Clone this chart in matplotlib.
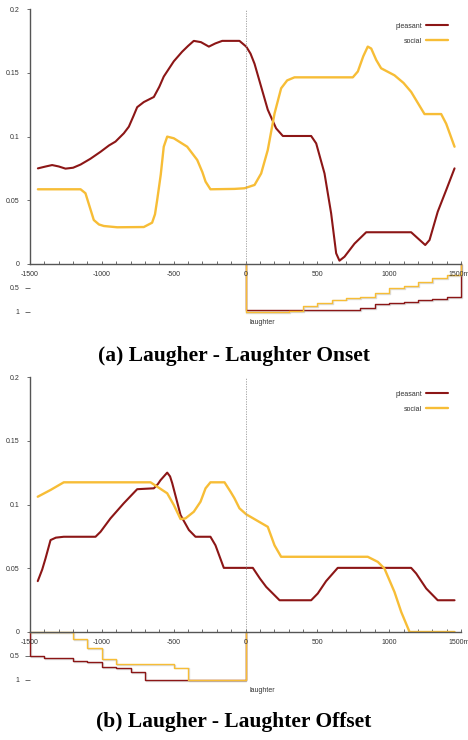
import matplotlib
matplotlib.use('Agg')
import matplotlib.pyplot as plt
import matplotlib.patheffects as pe


#######################################################################

plt.rcParams['font.family'] = ['Liberation Sans', 'DejaVu Sans']

# Colours of the two ratings.
red = '#8c1616'
gold = '#f7bd36'

# (a) onset: smooth rating curves, time in ms.
a_pleasant_t = [-1445, -1390, -1346, -1300, -1253, -1200, -1148, -1080, -1009, -950,
                -905, -847, -812, -780, -754, -708, -638, -600, -569, -499, -441,
                -400, -360, -310, -255, -210, -162, -81, -42, 5, 35, 63, 109, 155,
                213, 260, 457, 492, 550, 596, 631, 654, 689, 759, 840, 1153, 1200,
                1251, 1281, 1338, 1397, 1455]
a_pleasant_v = [0.075, 0.0765, 0.0776, 0.0765, 0.0748, 0.0755, 0.078, 0.0825, 0.088,
                0.093, 0.096, 0.1025, 0.1077, 0.116, 0.123, 0.127, 0.131, 0.139,
                0.147, 0.159, 0.1665, 0.171, 0.175, 0.174, 0.1705, 0.173, 0.175,
                0.175, 0.175, 0.1705, 0.165, 0.157, 0.139, 0.121, 0.1064, 0.1004,
                0.1004, 0.0946, 0.071, 0.0398, 0.0084, 0.0026, 0.0057, 0.016,
                0.0249, 0.0249, 0.0201, 0.0149, 0.0188, 0.041, 0.058, 0.075]

a_social_t = [-1445, -1148, -1114, -1085, -1056, -1020, -986, -893, -708, -650,
              -630, -615, -590, -569, -545, -499, -406, -336, -300, -278, -244,
              -77, -7, 63, 109, 155, 202, 248, 290, 341, 747, 782, 820, 851, 875,
              910, 944, 1037, 1100, 1153, 1246, 1362, 1397, 1455]
a_social_v = [0.0586, 0.0586, 0.0555, 0.045, 0.0345, 0.031, 0.0298, 0.0288, 0.029,
              0.0324, 0.039, 0.050, 0.070, 0.092, 0.0999, 0.0986, 0.092, 0.0816,
              0.072, 0.0646, 0.0586, 0.0589, 0.0594, 0.062, 0.071, 0.0894, 0.118,
              0.1378, 0.144, 0.1464, 0.1464, 0.151, 0.163, 0.1705, 0.169, 0.160,
              0.1535, 0.148, 0.142, 0.135, 0.1176, 0.1176, 0.110, 0.092]

# (a) onset: proportion of raters, step series.
a_step_pleasant_t = [0, 0, 700, 800, 900, 1000, 1100, 1200, 1300, 1400, 1500]
a_step_pleasant_v = [0, 0.965, 0.95, 0.92, 0.84, 0.82, 0.79, 0.76, 0.72, 0.69, 0]
a_step_social_t = [0, 0, 300, 400, 500, 600, 700, 800, 900, 1000, 1100, 1200,
                   1300, 1400, 1500]
a_step_social_v = [0, 1.0, 0.97, 0.88, 0.81, 0.74, 0.715, 0.68, 0.61, 0.5, 0.46,
                   0.37, 0.285, 0.22, 0]

# (b) offset: smooth rating curves.
b_pleasant_t = [-1446, -1415, -1392, -1357, -1320, -1265, -1044, -1009, -940, -847,
                -754, -638, -610, -592, -545, -525, -510, -452, -394, -348, -244,
                -209, -151, -81, 51, 100, 144, 237, 457, 503, 561, 642, 1153, 1188,
                1258, 1338, 1455]
b_pleasant_v = [0.0399, 0.049, 0.0577, 0.0721, 0.0740, 0.0747, 0.0747, 0.0786,
                0.0891, 0.101, 0.112, 0.1127, 0.116, 0.119, 0.125, 0.122, 0.1167,
                0.0917, 0.080, 0.0747, 0.0747, 0.068, 0.0503, 0.0503, 0.0503,
                0.042, 0.0354, 0.0249, 0.0249, 0.0302, 0.0399, 0.0503, 0.0503,
                0.0459, 0.0341, 0.0249, 0.0249]

b_social_t = [-1446, -1357, -1265, -661, -615, -545, -499, -452, -418, -360, -313,
              -278, -244, -146, -104, -77, -42, 5, 86, 155, 202, 248, 851, 921,
              967, 1037, 1084, 1142, 1455]
b_social_v = [0.1061, 0.1114, 0.1174, 0.1174, 0.114, 0.1088, 0.0996, 0.0886,
              0.0891, 0.0943, 0.1022, 0.1127, 0.1174, 0.1174, 0.110, 0.1049,
              0.097, 0.0923, 0.087, 0.0825, 0.068, 0.059, 0.059, 0.055, 0.0498,
              0.0314, 0.0157, 0.0, 0.0]

# (b) offset: proportion of raters, step series.
b_step_pleasant_t = [-1500, -1500, -1400, -1200, -1100, -1000, -900, -800, -700,
                     -400, 0, 0]
b_step_pleasant_v = [0, 0.5, 0.55, 0.6, 0.625, 0.72, 0.745, 0.84, 1.0, 1.0, 1.0, 0]
b_step_social_t = [-1500, -1200, -1100, -1000, -900, -500, -400, 0, 0]
b_step_social_v = [0, 0.14, 0.34, 0.57, 0.67, 0.74, 1.0, 1.0, 0]

x_ticks = [-1500, -1000, -500, 0, 500, 1000, 1500]
x_labels = ['-1500', '-1000', '-500', '0', '500', '1000', '1500ms']
y_ticks = [0, 0.05, 0.1, 0.15, 0.2]
y_labels = ['0', '0.05', '0.1', '0.15', '0.2']
captions = ['(a) Laugher - Laughter Onset', '(b) Laugher - Laughter Offset']


#######################################################################


def draw_panel(fig, bottom, curves, steps, caption, caption_y):

    """
    Draw one panel: the rating curves on top and the step plot of
    the proportion of raters underneath, sharing the time axis.
    """

    left, width = 30 / 468, 431 / 468
    main_h = 255 / 740
    step_h = 48 / 740

    # Step axes first, so the main axes and its tick labels sit on top.
    ax_s = fig.add_axes([left, bottom, width, step_h])
    ax = fig.add_axes([left, bottom + step_h, width, main_h])
    ax.patch.set_visible(False)
    ax_s.patch.set_visible(False)

    # Rating curves.
    (pt, pv), (st, sv) = curves
    ax.plot(pt, pv, color = red, lw = 1.5, label = 'pleasant',
            solid_capstyle = 'round')
    ax.plot(st, sv, color = gold, lw = 1.7, label = 'social',
            solid_capstyle = 'round')
    ax.axvline(0, color = '#999999', lw = 0.6, ls = (0, (1.5, 1.5)))

    ax.set_xlim(-1500, 1500)
    ax.set_ylim(0, 0.2)
    for s in ['top', 'right']:
        ax.spines[s].set_visible(False)
    for s in ['left', 'bottom']:
        ax.spines[s].set_color('#555555')
        ax.spines[s].set_linewidth(1.0)

    ax.set_yticks(y_ticks)
    ax.set_yticklabels(y_labels)
    ax.set_xticks(x_ticks)
    ax.set_xticklabels(x_labels)
    ax.set_xticks(range(-1500, 1501, 100), minor = True)
    ax.tick_params(axis = 'y', direction = 'out', length = 2.5, width = 0.6,
                   colors = '#555555', labelsize = 5, pad = 5,
                   labelcolor = '#333333')
    ax.tick_params(axis = 'x', which = 'both', direction = 'in', length = 2.5,
                   width = 0.6, colors = '#555555', labelsize = 5, pad = 5,
                   labelcolor = '#333333')

    leg = ax.legend(loc = 'upper right', bbox_to_anchor = (0.985, 0.97),
                    frameon = False, markerfirst = False, fontsize = 5,
                    handlelength = 3.2, labelspacing = 1.1, handletextpad = 0.6)
    for t in leg.get_texts():
        t.set_color('#333333')

    # Step plot underneath.
    shadow = [pe.SimpleLineShadow(offset = (0.7, -0.7), shadow_color = '0.6',
                                  alpha = 0.35),
              pe.Normal()]
    (pt, pv), (st, sv) = steps
    ax_s.plot(pt, pv, drawstyle = 'steps-post', color = red, lw = 1.0,
              path_effects = shadow, clip_on = False)
    ax_s.plot(st, sv, drawstyle = 'steps-post', color = gold, lw = 1.0,
              path_effects = shadow, clip_on = False)
    ax_s.set_xlim(-1500, 1500)
    ax_s.set_ylim(1, 0)
    for s in ax_s.spines.values():
        s.set_visible(False)
    ax_s.set_xticks([])
    ax_s.set_yticks([0.5, 1])
    ax_s.set_yticklabels(['0.5', '1'])
    ax_s.tick_params(axis = 'y', direction = 'out', length = 3.5, width = 0.6,
                     colors = '#555555', labelsize = 5, pad = 4,
                     labelcolor = '#333333')
    ax_s.text(30, 1.22, 'laughter', fontsize = 5, color = '#333333',
              ha = 'left', va = 'center', clip_on = False)

    fig.text(0.5, caption_y, caption, ha = 'center', va = 'center',
             fontsize = 15.5, fontweight = 'bold', family = 'Liberation Serif')


#######################################################################


fig = plt.figure(figsize = (4.68, 7.40), dpi = 100)

draw_panel(fig, 1 - 312 / 740,
           [(a_pleasant_t, a_pleasant_v), (a_social_t, a_social_v)],
           [(a_step_pleasant_t, a_step_pleasant_v),
            (a_step_social_t, a_step_social_v)],
           captions[0], 1 - 356 / 740)

draw_panel(fig, 1 - 680 / 740,
           [(b_pleasant_t, b_pleasant_v), (b_social_t, b_social_v)],
           [(b_step_pleasant_t, b_step_pleasant_v),
            (b_step_social_t, b_step_social_v)],
           captions[1], 1 - 722 / 740)

fig.savefig('out.png', dpi = 100)
